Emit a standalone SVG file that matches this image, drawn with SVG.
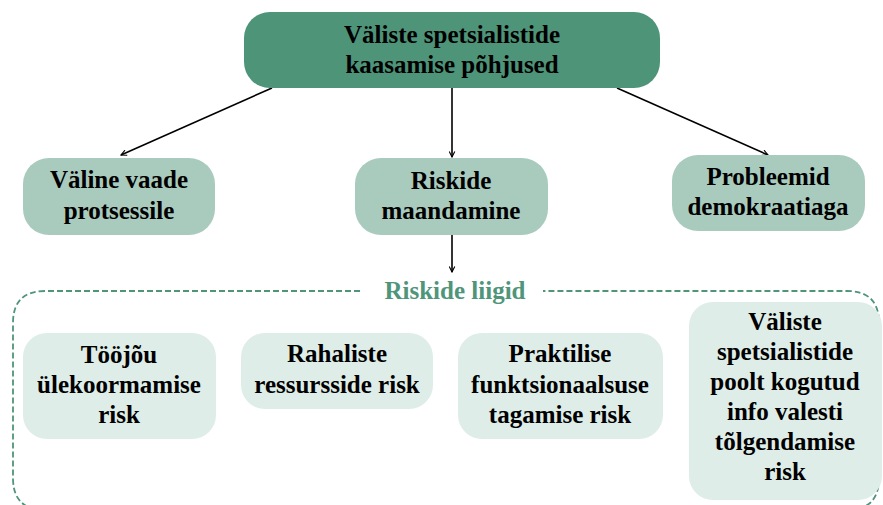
<svg xmlns="http://www.w3.org/2000/svg" width="883" height="505" viewBox="0 0 883 505">
<style>
.t{font-family:"Liberation Serif","Times New Roman",serif;font-weight:bold;font-size:25px;fill:#000;text-anchor:middle}
.top{fill:#4e9479}
.mid{fill:#a9cbbd}
.bot{fill:#deede7}
.conn{stroke:#000;stroke-width:1.6;fill:none;marker-end:url(#ah)}
.lbl{font-family:"Liberation Serif","Times New Roman",serif;font-weight:bold;font-size:25px;fill:#4f957a;text-anchor:middle}
</style>
<defs>
<marker id="ah" viewBox="0 0 10 10" refX="9" refY="5" markerWidth="7" markerHeight="7" orient="auto" markerUnits="userSpaceOnUse">
<path d="M1,1 L9,5 L1,9" fill="none" stroke="#000" stroke-width="1.6"/>
</marker>
</defs>
<rect width="883" height="505" fill="#fff"/>
<g id="connectors">
<line class="conn" x1="272" y1="88" x2="121" y2="155"/>
<line class="conn" x1="452" y1="88" x2="452" y2="157"/>
<line class="conn" x1="617" y1="88" x2="768" y2="155"/>
<line class="conn" x1="452" y1="235" x2="452" y2="272"/>
</g>
<g id="group-frame">
<path d="M360,291 H45 Q13,291 13,323 V478 Q13,510 45,510 H847 Q879,510 879,478 V323 Q879,291 847,291 H543" fill="none" stroke="#4f957a" stroke-width="1.8" stroke-dasharray="6,3"/>
<text class="lbl" x="455" y="299">Riskide liigid</text>
</g>
<g id="n-top">
<rect class="top" x="244" y="12" width="416" height="76" rx="26"/>
<text class="t" x="452" y="43" font-size="26">Väliste spetsialistide</text>
<text class="t" x="452" y="73" font-size="26">kaasamise põhjused</text>
</g>
<g id="n-valine">
<rect class="mid" x="23" y="158" width="192" height="77" rx="26"/>
<text class="t" x="119" y="188">Väline vaade</text>
<text class="t" x="119" y="219">protsessile</text>
</g>
<g id="n-riskide">
<rect class="mid" x="355" y="158" width="193" height="77" rx="26"/>
<text class="t" x="451" y="189">Riskide</text>
<text class="t" x="451" y="219">maandamine</text>
</g>
<g id="n-probleemid">
<rect class="mid" x="672" y="155" width="193" height="76" rx="26"/>
<text class="t" x="768" y="185">Probleemid</text>
<text class="t" x="768" y="215">demokraatiaga</text>
</g>
<g id="n-toojou">
<rect class="bot" x="23" y="333" width="193" height="106" rx="24"/>
<text class="t" x="119" y="363">Tööjõu</text>
<text class="t" x="119" y="393">ülekoormamise</text>
<text class="t" x="119" y="423">risk</text>
</g>
<g id="n-rahaliste">
<rect class="bot" x="241" y="333" width="192" height="76" rx="24"/>
<text class="t" x="337" y="362">Rahaliste</text>
<text class="t" x="337" y="393">ressursside risk</text>
</g>
<g id="n-praktilise">
<rect class="bot" x="458" y="333" width="205" height="106" rx="24"/>
<text class="t" x="560" y="362">Praktilise</text>
<text class="t" x="560" y="393">funktsionaalsuse</text>
<text class="t" x="560" y="423">tagamise risk</text>
</g>
<g id="n-valiste">
<rect class="bot" x="689" y="302" width="193" height="198" rx="24"/>
<text class="t" x="785" y="330">Väliste</text>
<text class="t" x="785" y="360">spetsialistide</text>
<text class="t" x="785" y="390">poolt kogutud</text>
<text class="t" x="785" y="420">info valesti</text>
<text class="t" x="785" y="450">tõlgendamise</text>
<text class="t" x="785" y="480">risk</text>
</g>
</svg>
